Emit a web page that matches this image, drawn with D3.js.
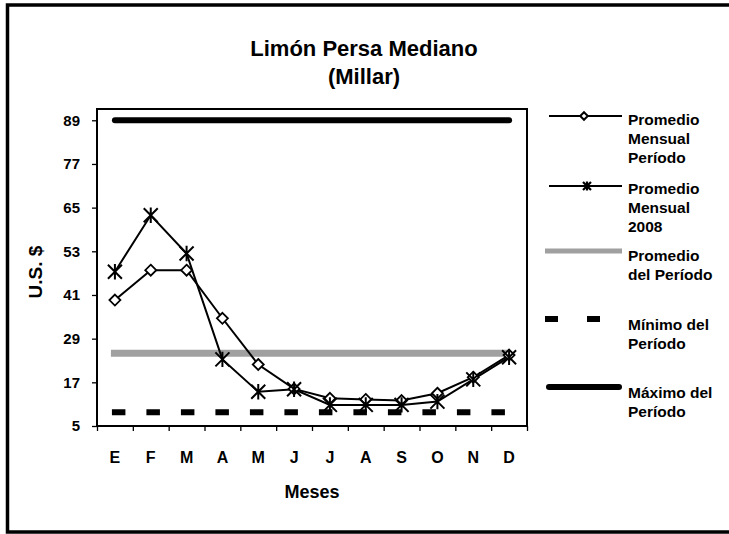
<!DOCTYPE html>
<html><head><meta charset="utf-8">
<script src="https://cdn.jsdelivr.net/npm/d3@7"></script>
<style>body{margin:0;background:#fff}svg{display:block}svg text{font-family:"Liberation Sans",Arial,sans-serif;font-weight:700;fill:#000}</style>
</head><body><svg id="c" width="729" height="534"></svg>
<script>
const months = ["E","F","M","A","M","J","J","A","S","O","N","D"];
const promedioMensualPeriodo = [39.6,47.8,47.8,34.6,21.9,15.2,12.6,12.3,12.0,14.0,18.4,24.5];
const promedioMensual2008 = [47.4,62.9,52.4,23.3,14.4,15.1,10.8,10.8,10.8,11.7,17.8,23.9];
const promedioPeriodo = 25.0;
const minimoPeriodo = 8.8;
const maximoPeriodo = 89;
const yTicks = [5,17,29,41,53,65,77,89];

const svg = d3.select("#c");
// outer frame
svg.append("rect").attr("x",7.5).attr("y",5).attr("width",740).attr("height",527)
  .attr("fill","none").attr("stroke","#000").attr("stroke-width",3.5);

const L=97,R=527,T=109,B=426;
const x = d3.scaleBand().domain(d3.range(12)).range([L,R]);
const cx = i => x(i)+x.bandwidth()/2;
const y = d3.scaleLinear().domain([5,92.1]).range([B,T]);

svg.append("rect").attr("x",L).attr("y",T).attr("width",R-L).attr("height",B-T)
  .attr("fill","none").attr("stroke","#000").attr("stroke-width",2);

// axes
const ya = svg.append("g").attr("transform",`translate(${L},0)`)
  .call(d3.axisLeft(y).tickValues(yTicks).tickSize(5).tickPadding(12).tickFormat(d3.format("d")));
ya.select(".domain").remove();
ya.selectAll("line").attr("stroke-width",1.3);
ya.selectAll("text").attr("font-size",15);
const xb = d3.scaleLinear().domain([0,12]).range([L,R]);
const xa = svg.append("g").attr("transform",`translate(0,${B})`)
  .call(d3.axisBottom(xb).tickValues(d3.range(13)).tickSize(5).tickFormat(""));
xa.select(".domain").remove();
xa.selectAll("line").attr("stroke-width",1.3);
svg.append("g").selectAll("text").data(months).join("text")
  .attr("x",(d,i)=>cx(i)).attr("y",463).attr("text-anchor","middle").attr("font-size",16).text(d=>d);

// titles
svg.append("text").attr("x",364).attr("y",56).attr("text-anchor","middle").attr("font-size",22).text("Limón Persa Mediano");
svg.append("text").attr("x",364).attr("y",84).attr("text-anchor","middle").attr("font-size",22).text("(Millar)");
svg.append("text").attr("x",312).attr("y",498).attr("text-anchor","middle").attr("font-size",18).text("Meses");
svg.append("text").attr("transform","translate(42,272) rotate(-90)").attr("text-anchor","middle").attr("font-size",19).text("U.S. $");

// reference lines
svg.append("line").attr("x1",cx(0)-4).attr("x2",cx(11))
  .attr("y1",y(promedioPeriodo)).attr("y2",y(promedioPeriodo)).attr("stroke","#a0a0a0").attr("stroke-width",7);
svg.append("line").attr("x1",cx(0)-3).attr("x2",cx(11))
  .attr("y1",y(minimoPeriodo)).attr("y2",y(minimoPeriodo)).attr("stroke","#000").attr("stroke-width",6)
  .attr("stroke-dasharray","13.5,21");
svg.append("line").attr("x1",cx(0)).attr("x2",cx(11))
  .attr("y1",y(maximoPeriodo)).attr("y2",y(maximoPeriodo)).attr("stroke","#000").attr("stroke-width",6)
  .attr("stroke-linecap","round");

const line = d3.line().x((d,i)=>cx(i)).y(d=>y(d));
function diamond(g,px,py,s,sw){g.append("path").attr("d",`M${px},${py-s}L${px+s},${py}L${px},${py+s}L${px-s},${py}Z`)
  .attr("fill","#fff").attr("stroke","#000").attr("stroke-width",sw);}
function star(g,px,py,s,sw){g.append("path").attr("d",`M${px-s},${py-s}L${px+s},${py+s}M${px-s},${py+s}L${px+s},${py-s}M${px},${py-s*1.1}L${px},${py+s*1.1}`)
  .attr("stroke","#000").attr("stroke-width",sw).attr("fill","none");}

svg.append("path").datum(promedioMensualPeriodo).attr("d",line).attr("fill","none").attr("stroke","#000").attr("stroke-width",2);
svg.append("path").datum(promedioMensual2008).attr("d",line).attr("fill","none").attr("stroke","#000").attr("stroke-width",2);
const gm = svg.append("g");
promedioMensualPeriodo.forEach((v,i)=>diamond(gm,cx(i),y(v),5.5,1.8));
promedioMensual2008.forEach((v,i)=>star(gm,cx(i),y(v),7,2));

// legend
const lg = svg.append("g");
const lx1=549,lx2=622,tx=628;
lg.append("line").attr("x1",lx1).attr("x2",lx2).attr("y1",116).attr("y2",116).attr("stroke","#000").attr("stroke-width",2);
diamond(lg,584,116,3.8,2);
lg.append("line").attr("x1",lx1).attr("x2",lx2).attr("y1",186).attr("y2",186).attr("stroke","#000").attr("stroke-width",2);
star(lg,587,186,4,2.2);
lg.append("line").attr("x1",545).attr("x2",lx2).attr("y1",251).attr("y2",251).attr("stroke","#a0a0a0").attr("stroke-width",5);
lg.append("line").attr("x1",545).attr("x2",600).attr("y1",319).attr("y2",319).attr("stroke","#000").attr("stroke-width",6).attr("stroke-dasharray","13,29");
lg.append("line").attr("x1",549).attr("x2",619).attr("y1",387).attr("y2",387).attr("stroke","#000").attr("stroke-width",6).attr("stroke-linecap","round");
const legendTexts = [
  [["Promedio","Mensual","Período"],125],
  [["Promedio","Mensual","2008"],194],
  [["Promedio","del Período"],261],
  [["Mínimo del","Período"],330],
  [["Máximo del","Período"],398]
];
legendTexts.forEach(([lines,y0])=>{
  lines.forEach((t,k)=>lg.append("text").attr("x",tx).attr("y",y0+k*19).attr("font-size",15.5).text(t));
});
</script></body></html>
